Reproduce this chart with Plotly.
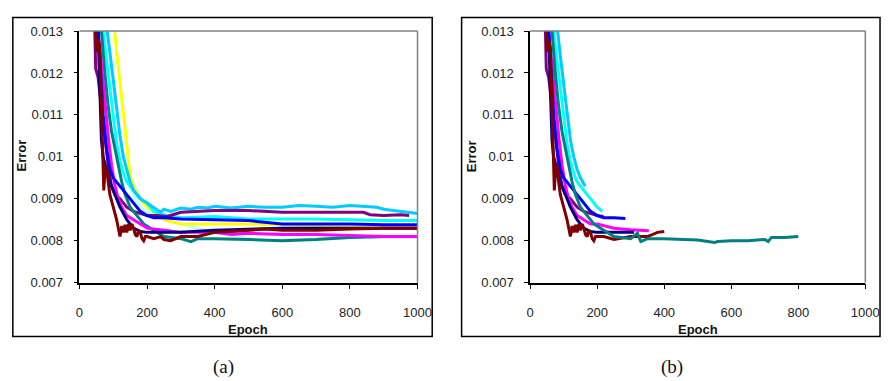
import plotly.graph_objects as go

W, H = 895, 381

# ---------------- Panel (a) data ----------------
a_skyblue_x = [78, 82, 90, 100, 110, 120, 130, 140, 150, 160, 180, 200, 220, 240, 250, 270, 300, 330, 350, 380, 400, 450, 500, 550, 600, 650, 700, 750, 800, 850, 880, 900, 950, 1000]
a_skyblue_y = [0.0135, 0.0130, 0.0125, 0.0118, 0.0111, 0.0105, 0.0100, 0.0097, 0.0094, 0.0092, 0.0090, 0.0089, 0.00878, 0.00868, 0.00875, 0.0087, 0.00878, 0.00875, 0.0088, 0.00878, 0.00882, 0.00878, 0.00882, 0.0088, 0.0088, 0.00884, 0.00882, 0.0088, 0.00884, 0.00882, 0.0088, 0.00875, 0.0087, 0.00865]

a_purple_x = [44, 45, 48, 55, 65, 75, 85, 95, 105, 120, 140, 160, 180, 200, 230, 260, 300, 350, 400, 500, 600, 700, 800, 840, 860, 900, 950, 975]
a_purple_y = [0.0135, 0.0130, 0.0121, 0.0119, 0.0112, 0.0104, 0.0098, 0.0093, 0.0091, 0.0090, 0.0088, 0.0087, 0.00865, 0.0086, 0.0086, 0.00858, 0.00868, 0.0087, 0.00872, 0.00872, 0.00868, 0.00868, 0.00868, 0.00868, 0.00862, 0.0086, 0.00862, 0.0086]

a_cyan_x = [68, 70, 80, 90, 100, 110, 120, 130, 140, 160, 180, 200, 220, 260, 300, 400, 450, 500, 600, 700, 800, 900, 1000]
a_cyan_y = [0.0135, 0.0130, 0.0123, 0.0116, 0.0109, 0.0103, 0.0099, 0.0096, 0.0094, 0.0092, 0.0090, 0.0089, 0.0087, 0.0086, 0.00855, 0.00858, 0.00855, 0.00852, 0.00852, 0.00852, 0.0085, 0.00848, 0.00848]

a_blue_x = [53, 55, 60, 65, 70, 80, 90, 100, 110, 120, 140, 160, 180, 200, 220, 250, 300, 400, 500, 600, 700, 800, 900, 1000]
a_blue_y = [0.0135, 0.0130, 0.0124, 0.0117, 0.0110, 0.0102, 0.0097, 0.0095, 0.0094, 0.0093, 0.0091, 0.0089, 0.0087, 0.0086, 0.00855, 0.00855, 0.00852, 0.0085, 0.00848, 0.0084, 0.0084, 0.0084, 0.00838, 0.00838]

a_yellow_x = [103, 104, 110, 120, 130, 140, 148, 155, 165, 180, 200, 220, 250, 300, 400, 500, 600, 700, 800, 900, 1000]
a_yellow_y = [0.0135, 0.0130, 0.0125, 0.0118, 0.0110, 0.0103, 0.0097, 0.0094, 0.0092, 0.0090, 0.0088, 0.0087, 0.0085, 0.0084, 0.0084, 0.0084, 0.00838, 0.00835, 0.00832, 0.0083, 0.0083]

a_maroon_x = [46, 50, 55, 60, 63, 66, 70, 72, 75, 80, 85, 90, 100, 110, 120, 125, 130, 135, 140, 145, 150, 155, 160, 165, 170, 175, 180, 185, 190, 195, 200, 220, 240, 250, 270, 300, 350, 400, 450, 500, 550, 600, 700, 800, 900, 1000]
a_maroon_y = [0.0135, 0.0125, 0.0128, 0.0126, 0.0118, 0.0108, 0.0098, 0.0092, 0.0096, 0.0098, 0.0094, 0.0091, 0.0088, 0.0085, 0.0081, 0.00835, 0.0082, 0.00838, 0.0082, 0.0084, 0.00825, 0.0084, 0.0083, 0.00815, 0.0081, 0.00825, 0.0082, 0.00805, 0.0080, 0.0081, 0.0081, 0.00805, 0.0081, 0.00803, 0.0080, 0.0081, 0.0081, 0.0082, 0.00822, 0.00825, 0.00828, 0.00825, 0.00825, 0.00828, 0.0083, 0.0083]

a_magenta_x = [53, 55, 65, 75, 85, 95, 105, 115, 125, 140, 160, 180, 200, 250, 300, 400, 450, 500, 600, 700, 800, 900, 1000]
a_magenta_y = [0.0135, 0.0130, 0.0122, 0.0113, 0.0105, 0.0098, 0.0093, 0.0090, 0.0088, 0.0086, 0.0085, 0.0084, 0.0083, 0.00825, 0.0082, 0.0082, 0.00815, 0.00818, 0.00815, 0.00815, 0.00812, 0.0081, 0.0081]

a_teal_x = [63, 65, 75, 85, 95, 105, 115, 125, 135, 150, 170, 190, 210, 250, 300, 330, 350, 400, 500, 600, 700, 800, 900, 1000]
a_teal_y = [0.0135, 0.0130, 0.0120, 0.0112, 0.0106, 0.0102, 0.0098, 0.0094, 0.0091, 0.0088, 0.0086, 0.0084, 0.0083, 0.0081, 0.00805, 0.00798, 0.00805, 0.00805, 0.00803, 0.0080, 0.00803, 0.00808, 0.0081, 0.0081]

a_lightcyan_x = [78, 80, 90, 100, 110, 120, 130, 140, 160, 180, 200, 250, 300, 350, 400, 450, 500, 550, 600, 700, 800, 900, 1000]
a_lightcyan_y = [0.0135, 0.0130, 0.0123, 0.0116, 0.0110, 0.0104, 0.0099, 0.0095, 0.0091, 0.0088, 0.0087, 0.0085, 0.0084, 0.0083, 0.0082, 0.00812, 0.00805, 0.0080, 0.00802, 0.00805, 0.00808, 0.00808, 0.00808]

a_navy_x = [53, 55, 58, 62, 65, 70, 80, 90, 100, 120, 140, 160, 180, 200, 250, 300, 400, 500, 600, 700, 800, 900, 1000]
a_navy_y = [0.0135, 0.0130, 0.0122, 0.0114, 0.0104, 0.0100, 0.0097, 0.0094, 0.0092, 0.0088, 0.0085, 0.0083, 0.00822, 0.0082, 0.0082, 0.0082, 0.00825, 0.00828, 0.0083, 0.0083, 0.0083, 0.0083, 0.0083]

# ---------------- Panel (b) data ----------------
b_lightcyan_x = [78, 80, 90, 100, 110, 120]
b_lightcyan_y = [0.0135, 0.0130, 0.0123, 0.0116, 0.0110, 0.0106]

b_skyblue_x = [80, 82, 90, 100, 110, 120, 130, 140, 150, 164]
b_skyblue_y = [0.0135, 0.0130, 0.0124, 0.0117, 0.0110, 0.0104, 0.0100, 0.0097, 0.0095, 0.0093]

b_cyan_x = [68, 70, 80, 90, 100, 110, 120, 130, 140, 160, 180, 200, 215]
b_cyan_y = [0.0135, 0.0130, 0.0123, 0.0116, 0.0109, 0.0103, 0.0099, 0.0096, 0.0094, 0.0092, 0.0090, 0.0088, 0.0087]

b_purple_x = [44, 45, 48, 55, 65, 75, 85, 95, 105, 120, 140, 160, 180, 200, 219]
b_purple_y = [0.0135, 0.0130, 0.0121, 0.0119, 0.0112, 0.0104, 0.0098, 0.0093, 0.0091, 0.0090, 0.0088, 0.0087, 0.00865, 0.0086, 0.00858]

b_blue_x = [53, 55, 60, 65, 70, 80, 90, 100, 110, 120, 140, 160, 180, 200, 220, 250, 284]
b_blue_y = [0.0135, 0.0130, 0.0124, 0.0117, 0.0110, 0.0102, 0.0097, 0.0095, 0.0094, 0.0093, 0.0091, 0.0089, 0.0087, 0.0086, 0.00855, 0.00855, 0.00853]

b_magenta_x = [53, 55, 65, 75, 85, 95, 105, 115, 125, 140, 160, 180, 200, 250, 300, 354]
b_magenta_y = [0.0135, 0.0130, 0.0122, 0.0113, 0.0105, 0.0098, 0.0093, 0.0090, 0.0088, 0.0086, 0.0085, 0.0084, 0.0084, 0.0083, 0.00826, 0.00824]

b_navy_x = [53, 55, 58, 62, 65, 70, 80, 90, 100, 120, 140, 160, 180, 200, 250, 310]
b_navy_y = [0.0135, 0.0130, 0.0122, 0.0114, 0.0104, 0.0100, 0.0097, 0.0094, 0.0092, 0.0088, 0.0085, 0.0083, 0.00822, 0.0082, 0.0082, 0.0082]

b_maroon_x = [46, 50, 55, 60, 63, 66, 70, 72, 75, 80, 85, 90, 100, 110, 120, 125, 130, 135, 140, 145, 150, 155, 160, 165, 170, 175, 180, 185, 190, 195, 200, 220, 250, 300, 330, 350, 380, 400]
b_maroon_y = [0.0135, 0.0125, 0.0128, 0.0126, 0.0118, 0.0108, 0.0098, 0.0092, 0.0096, 0.0098, 0.0094, 0.0091, 0.0088, 0.0085, 0.0081, 0.00835, 0.0082, 0.00838, 0.0082, 0.0084, 0.00825, 0.0084, 0.0083, 0.00815, 0.0081, 0.00825, 0.0082, 0.00805, 0.0080, 0.0081, 0.0081, 0.0081, 0.00803, 0.0081, 0.0081, 0.0081, 0.0082, 0.00822]

b_teal_x = [63, 65, 75, 85, 95, 105, 115, 125, 135, 150, 170, 190, 210, 250, 300, 320, 330, 350, 400, 450, 500, 550, 560, 600, 650, 700, 710, 720, 760, 800]
b_teal_y = [0.0135, 0.0130, 0.0120, 0.0112, 0.0106, 0.0102, 0.0098, 0.0094, 0.0091, 0.0088, 0.0086, 0.0084, 0.0083, 0.0081, 0.00805, 0.00818, 0.00798, 0.00805, 0.00805, 0.00803, 0.00802, 0.00796, 0.00798, 0.008, 0.0080, 0.00803, 0.00798, 0.00808, 0.00808, 0.0081]

# Tick labels
x_ticks = [0, 200, 400, 600, 800, 1000]
x_ticktext = ["0", "200", "400", "600", "800", "1000"]
y_ticks = [0.007, 0.008, 0.009, 0.010, 0.011, 0.012, 0.013]
y_ticktext = ["0.007", "0.008", "0.009", "0.01", "0.011", "0.012", "0.013"]

COL = {
    "lightcyan": "#BFFFFF", "yellow": "#FFFF00", "cyan": "#00FFFF", "skyblue": "#00CCFF",
    "purple": "#800080", "magenta": "#FF00FF", "teal": "#008080", "navy": "#000080",
    "blue": "#0000FF", "maroon": "#800000",
}

panel_a = [
    ("lightcyan", a_lightcyan_x, a_lightcyan_y),
    ("yellow", a_yellow_x, a_yellow_y),
    ("cyan", a_cyan_x, a_cyan_y),
    ("skyblue", a_skyblue_x, a_skyblue_y),
    ("purple", a_purple_x, a_purple_y),
    ("teal", a_teal_x, a_teal_y),
    ("magenta", a_magenta_x, a_magenta_y),
    ("navy", a_navy_x, a_navy_y),
    ("blue", a_blue_x, a_blue_y),
    ("maroon", a_maroon_x, a_maroon_y),
]
panel_b = [
    ("lightcyan", b_lightcyan_x, b_lightcyan_y),
    ("cyan", b_cyan_x, b_cyan_y),
    ("skyblue", b_skyblue_x, b_skyblue_y),
    ("purple", b_purple_x, b_purple_y),
    ("magenta", b_magenta_x, b_magenta_y),
    ("navy", b_navy_x, b_navy_y),
    ("blue", b_blue_x, b_blue_y),
    ("maroon", b_maroon_x, b_maroon_y),
    ("teal", b_teal_x, b_teal_y),
]

fig = go.Figure()
for name, xs, ys in panel_a:
    fig.add_trace(go.Scatter(x=xs, y=ys, mode="lines", line=dict(color=COL[name], width=3),
                             xaxis="x", yaxis="y", showlegend=False, hoverinfo="skip"))
for name, xs, ys in panel_b:
    fig.add_trace(go.Scatter(x=xs, y=ys, mode="lines", line=dict(color=COL[name], width=3),
                             xaxis="x2", yaxis="y2", showlegend=False, hoverinfo="skip"))

def px(v):
    return v / W

def py(v):
    return 1 - v / H

# plot areas in pixels
A = dict(l=77, r=422, t=25, b=287)
B = dict(l=537, r=879, t=25, b=287)

font_tick = dict(family="Liberation Sans, Arial", size=13, color="#222")
common_x = dict(range=[0, 1000], tickvals=x_ticks, ticktext=x_ticktext, ticks="outside", ticklen=5,
                tickcolor="black", showline=True, linecolor="black", linewidth=1.5, showgrid=False,
                zeroline=False, tickfont=font_tick, fixedrange=True, ticklabelstandoff=12)
common_y = dict(range=[0.007, 0.013], tickvals=y_ticks, ticktext=y_ticktext, ticks="outside", ticklen=4,
                tickcolor="black", showline=True, linecolor="black", linewidth=1.5, showgrid=False,
                zeroline=False, tickfont=font_tick, fixedrange=True, ticklabelstandoff=8)

fig.update_layout(
    width=W, height=H, margin=dict(l=0, r=0, t=0, b=0),
    paper_bgcolor="white", plot_bgcolor="white",
    xaxis=dict(domain=[px(A["l"]), px(A["r"])], anchor="y", **common_x),
    yaxis=dict(domain=[py(A["b"]), py(A["t"])], anchor="x", **common_y),
    xaxis2=dict(domain=[px(B["l"]), px(B["r"])], anchor="y2", **common_x),
    yaxis2=dict(domain=[py(B["b"]), py(B["t"])], anchor="x2", **common_y),
)

shapes = []
for (x0, x1) in [(9, 437), (467, 894)]:
    shapes.append(dict(type="rect", xref="paper", yref="paper", x0=px(x0), x1=px(x1), y0=py(343), y1=py(11),
                       line=dict(color="black", width=1.5), fillcolor="rgba(0,0,0,0)", layer="below"))
for P in (A, B):
    shapes.append(dict(type="line", xref="paper", yref="paper", x0=px(P["l"]), x1=px(P["r"]), y0=py(P["t"]), y1=py(P["t"]),
                       line=dict(color="#808080", width=1.5)))
    shapes.append(dict(type="line", xref="paper", yref="paper", x0=px(P["r"]), x1=px(P["r"]), y0=py(P["t"]), y1=py(P["b"]),
                       line=dict(color="#808080", width=1.5)))
fig.update_layout(shapes=shapes)

ann = []
for P, cap, cx in ((A, "(a)", 224), (B, "(b)", 682)):
    ann.append(dict(text="<b>Epoch</b>", xref="paper", yref="paper", x=px((P["l"] + P["r"]) / 2), y=py(336),
                    showarrow=False, font=dict(family="Liberation Sans, Arial", size=13, color="#111"),
                    xanchor="center", yanchor="middle"))
    ann.append(dict(text="<b>Error</b>", xref="paper", yref="paper", x=px(P["l"] - 59), y=py(155),
                    showarrow=False, textangle=-90, font=dict(family="Liberation Sans, Arial", size=13, color="#111"),
                    xanchor="center", yanchor="middle"))
    ann.append(dict(text=cap, xref="paper", yref="paper", x=px(cx), y=py(375), showarrow=False,
                    font=dict(family="Liberation Serif, Times New Roman", size=19, color="#111"),
                    xanchor="center", yanchor="middle"))
fig.update_layout(annotations=ann)

fig.write_html("out.html")
